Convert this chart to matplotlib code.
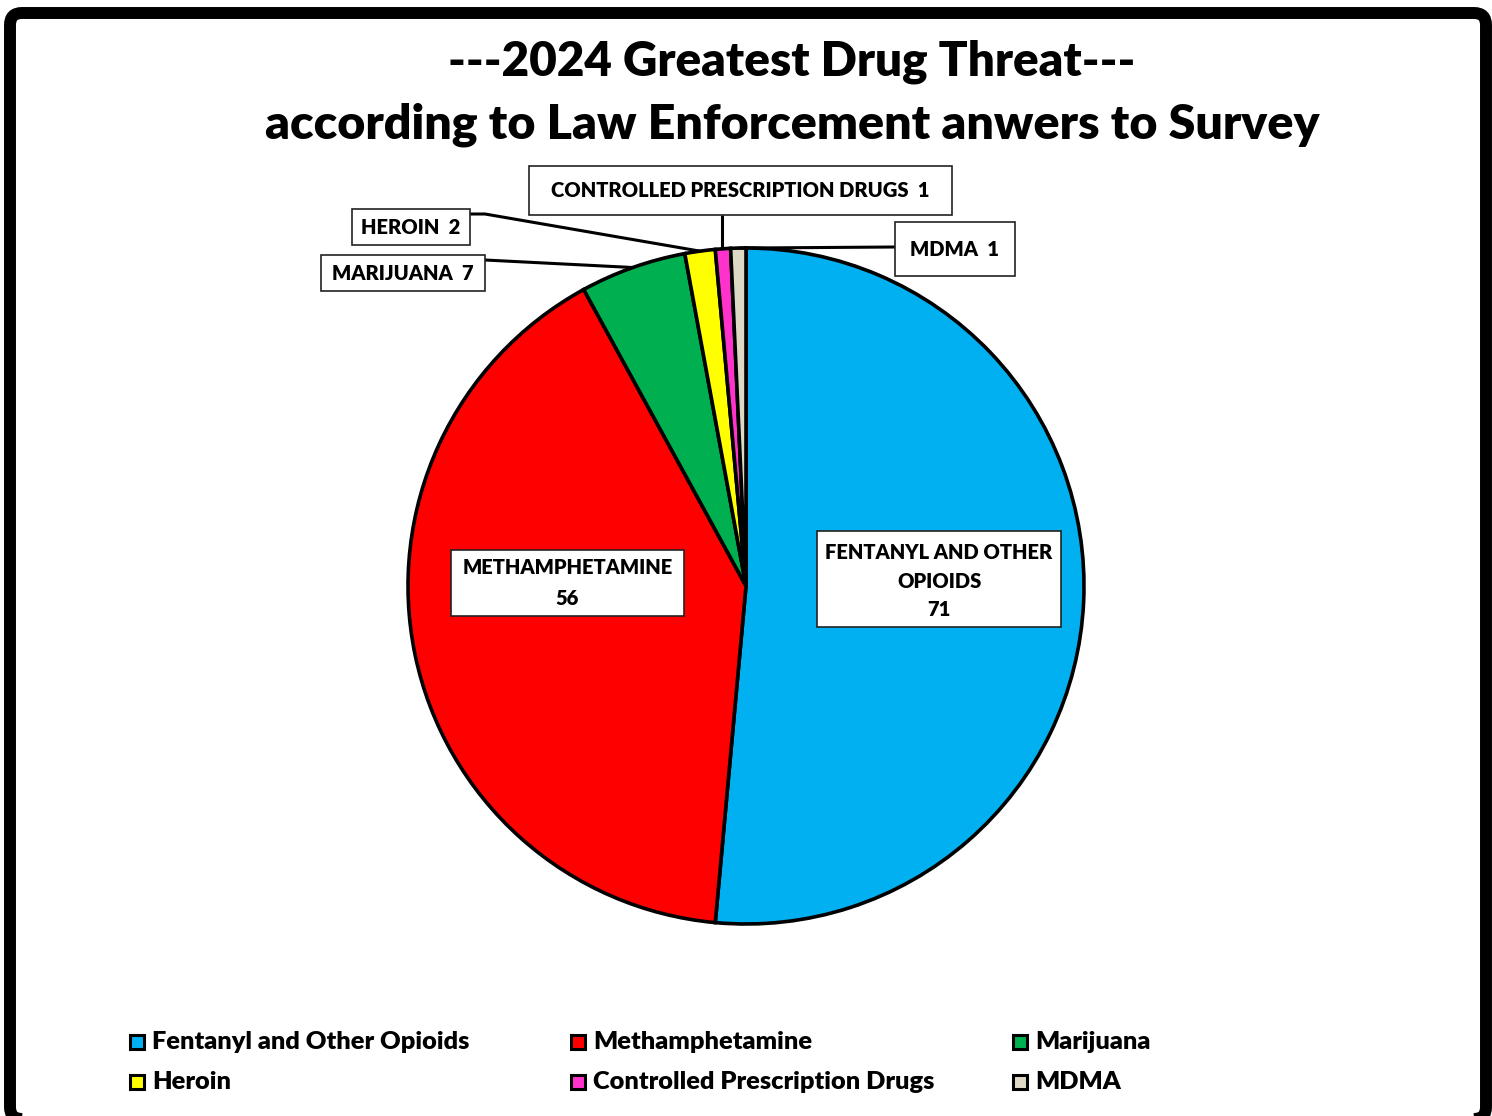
import matplotlib
matplotlib.use("Agg")
import matplotlib.pyplot as plt
from matplotlib.patches import FancyBboxPatch, Rectangle
import numpy as np

# Survey answers: greatest drug threat
categories = ["Fentanyl and Other Opioids", "Methamphetamine", "Marijuana",
              "Heroin", "Controlled Prescription Drugs", "MDMA"]
slice_labels = ["FENTANYL AND OTHER\nOPIOIDS", "METHAMPHETAMINE", "MARIJUANA",
                "HEROIN", "CONTROLLED PRESCRIPTION DRUGS", "MDMA"]
values = [71, 56, 7, 2, 1, 1]
colors = ["#00B0F0", "#FF0000", "#00B050", "#FFFF00", "#FF33CC", "#DDD9C4"]
title_lines = ["---2024 Greatest Drug Threat---",
               "according to Law Enforcement anwers to Survey"]

FONT = "Lato"
WEIGHT = "heavy"
W, H = 1492, 1116
fig = plt.figure(figsize=(W / 100, H / 100), dpi=100)
ax = fig.add_axes([0, 0, 1, 1])


def Y(y):
    return H - y


cx, cy, r = 746, 586, 338
wedges, _ = ax.pie(values, colors=colors, startangle=90, counterclock=False,
                   center=(cx, Y(cy)), radius=r, frame=True,
                   wedgeprops=dict(edgecolor="black", linewidth=2.6))
ax.set_xlim(0, W)
ax.set_ylim(0, H)
ax.set_aspect("equal")
ax.axis("off")


def edge_point(w):
    ang = np.deg2rad((w.theta1 + w.theta2) / 2)
    return cx + r * np.cos(ang), Y(cy) + r * np.sin(ang)


# label boxes: (x0, y0, x1, y1) in pixels from top-left
boxes = {
    0: (817, 531, 1061, 627),
    1: (451, 550, 684, 616),
    2: (321, 255, 485, 291),
    3: (352, 209, 470, 245),
    4: (529, 166, 952, 215),
    5: (895, 222, 1015, 276),
}
# leader line starting points next to each box
leaders = {
    2: [(485, 260)],
    3: [(470, 214), (485, 214)],
    4: [(722, 215)],
    5: [(895, 247)],
}

for i, (x0, y0, x1, y1) in boxes.items():
    if i in leaders:
        pts = [(px, Y(py)) for px, py in leaders[i]]
        ex, ey = edge_point(wedges[i])
        if i == 4:
            ex = pts[0][0]
        xs = [p[0] for p in pts] + [ex]
        ys = [p[1] for p in pts] + [ey]
        ax.plot(xs, ys, color="black", lw=2.2, solid_capstyle="butt", zorder=3)
    ax.add_patch(Rectangle((x0, Y(y1)), x1 - x0, y1 - y0, facecolor="white",
                           edgecolor="#222222", lw=1.2, zorder=4))
    if i < 2:
        txt = f"{slice_labels[i]}\n{values[i]}"
    else:
        txt = f"{slice_labels[i]}  {values[i]}"
    cyl = (y0 + y1) / 2 + (2 if i == 0 else 0)
    ax.text((x0 + x1) / 2, Y(cyl), txt, ha="center", va="center",
            fontsize=14.5, fontweight=WEIGHT, family=FONT,
            linespacing=1.6 if i == 0 else 1.75, zorder=5)

# title
ax.text(792, Y(62), title_lines[0], ha="center", va="center", fontsize=34.3,
        fontweight=WEIGHT, family=FONT)
ax.text(792, Y(125), title_lines[1], ha="center", va="center", fontsize=34.8,
        fontweight=WEIGHT, family=FONT)

# legend, two rows of three
col_x = [137, 578, 1020]
row_y = [1042, 1082]
for k, name in enumerate(categories):
    mx, my = col_x[k % 3], row_y[k // 3]
    ax.add_patch(Rectangle((mx - 7, Y(my) - 7), 14, 14, facecolor=colors[k],
                           edgecolor="black", lw=2.2, zorder=5))
    ax.text(mx + 15, Y(my), name, ha="left", va="center", fontsize=18.3,
            fontweight=WEIGHT, family=FONT)

# outer frame
ax.add_patch(FancyBboxPatch((10, Y(1119)), 1476, 1106,
                            boxstyle="round,pad=0,rounding_size=12",
                            facecolor="none", edgecolor="black", lw=8.6,
                            zorder=10, clip_on=False))

fig.savefig("out.png", dpi=100, facecolor="white")
